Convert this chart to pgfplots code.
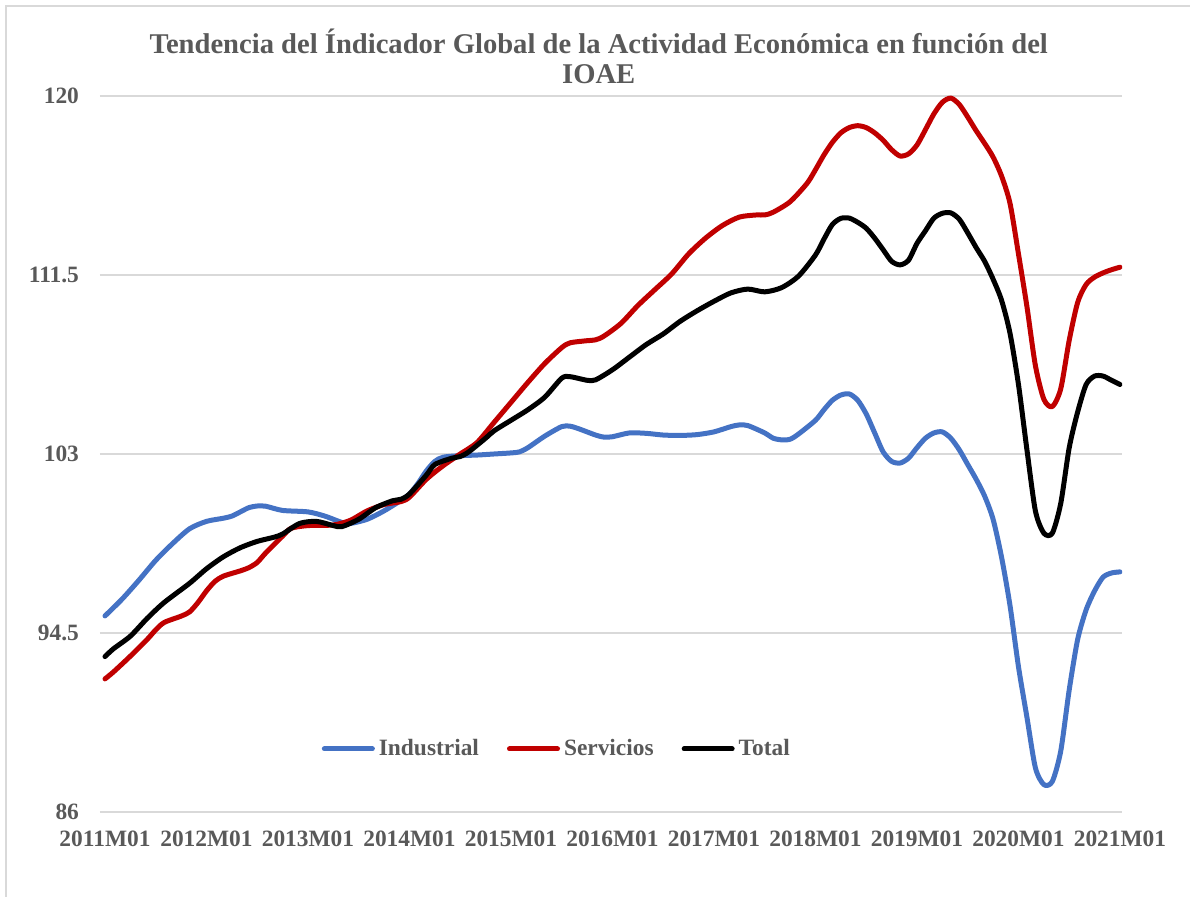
\documentclass[border=0pt]{standalone}
\usepackage{fontspec}
\setmainfont{Liberation Serif}
\usepackage{pgfplots}
\pgfplotsset{compat=1.18}
\definecolor{txt}{HTML}{595959}
\definecolor{gridc}{HTML}{D9D9D9}
\definecolor{ind}{HTML}{4472C4}
\definecolor{ser}{HTML}{C00000}
\begin{document}
\begin{tikzpicture}
\path[use as bounding box] (-50pt,-42.5pt) rectangle (545pt,406pt);
\draw[gridc, line width=1pt] (-47pt,-42.5pt) -- (-47pt,403pt) -- (545pt,403pt);
\begin{axis}[
  scale only axis,
  width=511pt, height=358pt,
  xmin=-0.59, xmax=120.24,
  ymin=86, ymax=120,
  ytick={86,94.5,103,111.5,120},
  yticklabels={86,94.5,103,111.5,120},
  xtick={0,12,...,120},
  xticklabels={2011M01,2012M01,2013M01,2014M01,2015M01,2016M01,2017M01,2018M01,2019M01,2020M01,2021M01},
  axis line style={draw=none},
  tick style={draw=none},
  ymajorgrids,
  grid style={gridc, line width=1pt},
  ticklabel style={font=\fontsize{11.7pt}{14pt}\selectfont\bfseries, text=txt},
  /pgf/number format/assume math mode=true,
  yticklabel style={xshift=-7pt},
  xticklabel style={yshift=-6pt},
  title={Tendencia del Índicador Global de la Actividad Económica en función del\\IOAE},
  title style={font=\fontsize{14.3pt}{15pt}\selectfont\bfseries, text=txt, align=center,
    at={(axis description cs:0.488,1)}, anchor=center, yshift=14pt},
  legend columns=3,
  legend style={draw=none, fill=none, at={(axis description cs:0.448,0.088)}, anchor=center,
    font=\fontsize{11.7pt}{14pt}\selectfont\bfseries, text=txt,
    /tikz/every even column/.append style={column sep=12pt}},
  legend image code/.code={\draw[#1, line width=2.5pt, line cap=round] (0pt,0pt) -- (24pt,0pt);},
  every axis plot/.append style={line width=2.5pt, line cap=round, line join=round, smooth, tension=0.45},
]
\addplot[ind] coordinates {
(0,95.31) (2,96.1) (4,97.0) (6,97.95) (8,98.75) (10,99.45) (12,99.8) (14,99.95) (15,100.05) (16,100.25) (17,100.45) (18,100.53) (19,100.52) (21,100.32) (24,100.25) (26,100.05) (28,99.75) (29,99.7) (31,99.9) (33,100.3) (35,100.8) (36,101.1) (37,101.6) (38,102.2) (39,102.65) (40,102.85) (42,102.92) (44,102.95) (46,103.0) (48,103.05) (49,103.1) (50,103.3) (52,103.85) (54,104.3) (55,104.32) (56,104.2) (58,103.9) (59,103.8) (60,103.82) (62,104.0) (64,103.98) (66,103.9) (68,103.88) (70,103.92) (72,104.05) (74,104.3) (75,104.38) (76,104.35) (78,104.0) (79,103.75) (80,103.67) (81,103.7) (82,103.95) (84,104.6) (85,105.1) (86,105.55) (87,105.8) (88,105.85) (89,105.55) (90,104.9) (91,104.0) (92,103.1) (93,102.65) (94,102.57) (95,102.8) (96,103.3) (97,103.75) (98,104.0) (99,104.05) (100,103.75) (101,103.2) (102,102.5) (103,101.8) (104,101.0) (105,99.9) (106,98.1) (107,95.8) (108,92.9) (109,90.5) (110,88.1) (111,87.3) (112,87.45) (113,88.9) (114,91.8) (115,94.2) (116,95.6) (117,96.5) (118,97.15) (119,97.35) (120,97.4)
};
\addlegendentry{Industrial}
\addplot[ser] coordinates {
(0,92.32) (1,92.65) (3,93.4) (5,94.2) (6,94.65) (7,95.0) (9,95.3) (10,95.5) (11,95.95) (12,96.5) (13,96.95) (14,97.2) (16,97.45) (17,97.6) (18,97.85) (19,98.3) (21,99.1) (22,99.47) (24,99.6) (27,99.63) (29,99.85) (31,100.3) (33,100.6) (35,100.74) (36,100.95) (38,101.8) (40,102.45) (42,103.0) (44,103.55) (46,104.5) (48,105.45) (50,106.4) (52,107.3) (54,108.05) (55,108.28) (57,108.38) (58,108.42) (59,108.6) (61,109.2) (63,110.05) (65,110.8) (67,111.55) (69,112.5) (71,113.25) (73,113.85) (75,114.25) (77,114.35) (78,114.35) (79,114.48) (81,114.98) (83,115.85) (84,116.5) (85,117.2) (86,117.8) (87,118.25) (88,118.5) (89,118.59) (90,118.5) (91,118.25) (92,117.9) (93,117.45) (94,117.15) (95,117.25) (96,117.67) (97,118.4) (98,119.15) (99,119.7) (100,119.9) (101,119.6) (102,119.0) (103,118.35) (104,117.75) (105,117.1) (106,116.2) (107,114.9) (108,112.5) (109,110.0) (110,107.2) (111,105.6) (112,105.25) (113,106.1) (114,108.4) (115,110.2) (116,111.05) (117,111.4) (118,111.6) (119,111.75) (120,111.87)
};
\addlegendentry{Servicios}
\addplot[black] coordinates {
(0,93.38) (1,93.75) (3,94.35) (5,95.2) (7,95.95) (10,96.86) (12,97.55) (14,98.12) (16,98.55) (18,98.85) (20,99.05) (21,99.2) (23,99.7) (25,99.8) (27,99.6) (28,99.55) (30,99.9) (32,100.45) (34,100.78) (35,100.85) (36,101.1) (38,102.0) (39,102.5) (41,102.8) (42,102.88) (43,103.1) (45,103.75) (46,104.1) (48,104.6) (50,105.1) (52,105.7) (54,106.6) (55,106.67) (57,106.5) (58,106.52) (60,107.0) (62,107.6) (64,108.2) (66,108.7) (68,109.3) (70,109.8) (72,110.25) (74,110.65) (76,110.83) (78,110.7) (80,110.9) (82,111.45) (84,112.45) (85,113.2) (86,113.9) (87,114.19) (88,114.2) (89,114.0) (90,113.72) (91,113.25) (92,112.7) (93,112.15) (94,111.98) (95,112.2) (96,113.0) (97,113.6) (98,114.2) (99,114.43) (100,114.45) (101,114.15) (102,113.5) (103,112.8) (104,112.15) (105,111.3) (106,110.3) (107,108.73) (108,106.3) (109,103.2) (110,100.3) (111,99.24) (112,99.24) (113,100.66) (114,103.3) (115,105.0) (116,106.3) (117,106.7) (118,106.7) (119,106.5) (120,106.3)
};
\addlegendentry{Total}
\end{axis}
\end{tikzpicture}
\end{document}
